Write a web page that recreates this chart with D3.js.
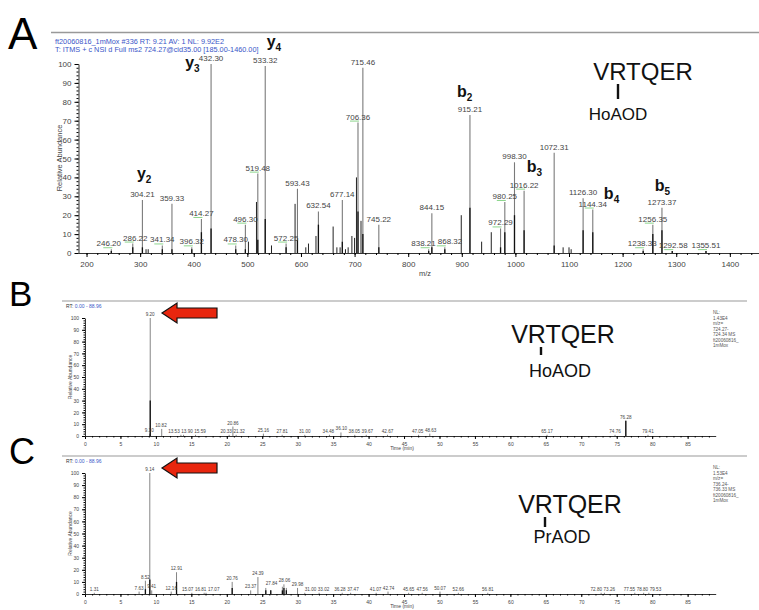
<!DOCTYPE html>
<html>
<head>
<meta charset="utf-8">
<script src="https://cdn.jsdelivr.net/npm/d3@7"></script>
<style>
body { margin: 0; background: #fff; }
svg { display: block; font-family: "Liberation Sans", Arial, sans-serif; }
</style>
</head>
<body>
<div id="chart"></div>
<script>
// ---- panel A : MS2 spectrum ----
var massLabeled = [246.20, 286.22, 304.21, 341.34, 359.33, 396.32, 414.27, 432.30, 478.30, 496.30,
    519.48, 533.32, 572.25, 593.43, 632.54, 677.14, 706.36, 715.46, 745.22, 838.21,
    844.15, 868.32, 915.21, 972.29, 980.25, 998.30, 1016.22, 1072.31, 1126.30, 1144.34,
    1238.33, 1256.35, 1273.37, 1292.58, 1355.51];
var intLabeled = [2, 5, 28, 4, 26, 3, 18, 100, 4, 15,
    42, 99, 5, 34, 22, 28, 69, 98, 15, 2,
    21, 3, 73, 13, 27, 48, 33, 53, 29, 23,
    2, 15, 24, 1, 1];
var darkLabeled = [1, 3, 3, 2, 2, 2, 11, 13, 2, 2,
    7, 18, 3, 7, 15, 6, 22, 10, 3, 1,
    3, 2, 24, 3, 11, 20, 12, 4, 12, 11,
    1, 10, 12, 1, 1];
var massOther = [311, 315, 502, 517, 545, 589, 609, 614, 628, 660, 667, 673, 683, 688, 695, 700, 703.5, 712,
    899, 937, 955, 1089, 1100, 1104];
var intOther = [2, 2, 6, 27, 4, 26, 3, 5, 9, 14, 3, 3, 2, 3, 9, 8, 40, 17,
    20, 6, 11, 3, 3, 2];
var greenA = [246.20, 286.22, 341.34, 396.32, 414.27, 478.30, 496.30, 519.48, 572.25, 706.36,
    838.21, 868.32, 972.29, 980.25, 1016.22, 1144.34, 1238.33, 1256.35, 1292.58, 1355.51];
var ionLetter = ["y", "y", "y", "b", "b", "b", "b"];
var ionIndex = ["2", "3", "4", "2", "3", "4", "5"];
var ionAtMz = [294, 384, 536, 891, 1021, 1165, 1260];
var ionAtInt = [39, 98, 109, 82.5, 43, 28.5, 33];
var mzTicks = [200, 300, 400, 500, 600, 700, 800, 900, 1000, 1100, 1200, 1300, 1400];
var abTicks = [0, 10, 20, 30, 40, 50, 60, 70, 80, 90, 100];

// ---- panel B : chromatogram HoAOD ----
var timeB = [9.10, 9.20, 10.82, 13.53, 13.90, 15.59, 20.33, 20.86, 21.32, 25.16, 27.81, 31.00,
    34.48, 36.10, 38.05, 39.67, 42.67, 47.05, 48.63, 65.17, 74.76, 76.28, 79.41];
var intB = [2, 100, 6, 1, 1, 1, 1, 8, 1, 2, 1, 1,
    1, 3, 1, 1, 1, 1, 2, 1, 1, 13, 1];
var darkB = [0, 30, 0, 0, 0, 0, 0, 0, 0, 0, 0, 0,
    0, 0, 0, 0, 0, 0, 0, 0, 0, 13, 0];
var nlB = ["NL:", "1.43E4", "m/z=", "724.27-", "724.34 MS", "ft20060816_", "1mMox"];

// ---- panel C : chromatogram PrAOD ----
var timeC = [1.31, 7.63, 8.52, 9.14, 9.41, 12.16, 12.91, 15.07, 16.81, 17.07, 20.76, 23.37,
    24.39, 25.5, 26.2, 27.84, 28.06, 28.4, 29.98, 31.00, 33.02, 36.28, 37.47, 41.07,
    42.74, 45.65, 47.56, 50.07, 52.66, 56.81, 72.80, 73.26, 77.55, 78.80, 79.53];
var intC = [1, 2, 11, 100, 3, 2, 18, 1, 1, 1, 10, 3,
    14, 5, 3, 6, 8, 5, 5, 1, 1, 1, 1, 1,
    2, 1, 1, 2, 1, 1, 1, 1, 1, 1, 1];
var darkC = [0, 0, 4, 12, 0, 0, 10, 0, 0, 0, 5, 0,
    0, 3, 3, 3, 5, 3, 0, 0, 0, 0, 0, 0,
    0, 0, 0, 0, 0, 0, 0, 0, 0, 0, 0];
var labelC = [true, true, true, true, true, true, true, true, true, true, true, true,
    true, false, false, true, true, false, true, true, true, true, true, true,
    true, true, true, true, true, true, true, true, true, true, true];
var nlC = ["NL:", "1.53E4", "m/z=", "736.24-", "736.33 MS", "ft20060816_", "1mMox"];
var timeTicks = [0, 5, 10, 15, 20, 25, 30, 35, 40, 45, 50, 55, 60, 65, 70, 75, 80, 85];

var fmt2 = d3.format(".2f");
var blue = "#3a56c8";

var svg = d3.select('#chart').append('svg')
    .attr('width', 759)
    .attr('height', 610);

// push apart peak labels that sit on the same level and collide
function spread(sel, gap) {
    var items = sel.nodes().map(n => ({ n: n, x: +n.getAttribute('x'), y: +n.getAttribute('y'), w: n.getComputedTextLength() }));
    for (var it = 0; it < 80; it++) {
        var moved = false;
        for (var i = 0; i < items.length; i++) {
            for (var j = i + 1; j < items.length; j++) {
                var a = items[i], b = items[j];
                if (Math.abs(a.y - b.y) > 6) continue;
                var need = (a.w + b.w) / 2 + gap;
                var d = b.x - a.x;
                if (Math.abs(d) < need) {
                    var push = (need - Math.abs(d)) / 2 + 0.01;
                    if (d >= 0) { a.x -= push; b.x += push; } else { a.x += push; b.x -= push; }
                    moved = true;
                }
            }
        }
        if (!moved) break;
    }
    items.forEach(o => o.n.setAttribute('x', o.x));
}

// panel letters
[["A", 8, 49, 44], ["B", 9, 306, 35], ["C", 9, 464, 36]].forEach(function (l) {
    svg.append('text').attr('x', l[1]).attr('y', l[2]).attr('font-size', l[3]).text(l[0]);
});

// ================= panel A =================
var xA = d3.scaleLinear().domain([185, 1460]).range([78.5, 762]);
var yA = d3.scaleLinear().domain([0, 100]).range([253, 64]);

svg.append('line').attr('x1', 51).attr('x2', 759).attr('y1', 32.5).attr('y2', 32.5)
    .attr('stroke', '#999').attr('stroke-width', 1.5);

svg.append('text').attr('x', 55).attr('y', 44).attr('font-size', 7.3).attr('fill', blue)
    .text('ft20060816_1mMox #336   RT: 9.21   AV: 1   NL: 9.92E2');
svg.append('text').attr('x', 55).attr('y', 52).attr('font-size', 7.3).attr('fill', blue)
    .text('T: ITMS + c NSI d Full ms2 724.27@cid35.00 [185.00-1460.00]');

var gA = svg.append('g');

// minor ticks
gA.append('g').attr('transform', 'translate(0,253)')
    .call(d3.axisBottom(xA).tickValues(d3.range(200, 1460, 20)).tickSize(2).tickSizeOuter(0).tickFormat(''))
    .call(g => g.select('.domain').attr('stroke', '#333'));
gA.append('g').attr('transform', 'translate(0,253)')
    .call(d3.axisBottom(xA).tickValues(mzTicks).tickSize(4).tickSizeOuter(0).tickFormat(d3.format('d')))
    .call(g => g.select('.domain').remove())
    .call(g => g.selectAll('text').attr('font-size', 8).attr('fill', '#444').attr('dy', '0.9em'));
gA.append('g').attr('transform', 'translate(78.5,0)')
    .call(d3.axisLeft(yA).tickValues(d3.range(0, 101, 2)).tickSize(2).tickSizeOuter(0).tickFormat(''))
    .call(g => g.select('.domain').attr('stroke', '#333'));
gA.append('g').attr('transform', 'translate(78.5,0)')
    .call(d3.axisLeft(yA).tickValues(abTicks).tickSize(4).tickSizeOuter(0))
    .call(g => g.select('.domain').remove())
    .call(g => g.selectAll('text').attr('font-size', 8).attr('fill', '#444'));

svg.append('text').attr('transform', 'translate(62,158) rotate(-90)')
    .attr('text-anchor', 'middle').attr('font-size', 7.5).attr('fill', '#444').text('Relative Abundance');
svg.append('text').attr('x', 425).attr('y', 276).attr('text-anchor', 'middle')
    .attr('font-size', 7.5).attr('fill', '#444').text('m/z');

// unlabeled sticks
gA.selectAll('.pO').data(massOther).enter().append('line')
    .attr('x1', d => xA(d)).attr('x2', d => xA(d))
    .attr('y1', yA(0)).attr('y2', (d, i) => yA(intOther[i]))
    .attr('stroke', '#222').attr('stroke-width', 1);
// labeled sticks
gA.selectAll('.pL').data(massLabeled).enter().append('line')
    .attr('x1', d => xA(d)).attr('x2', d => xA(d))
    .attr('y1', yA(0)).attr('y2', (d, i) => yA(intLabeled[i]))
    .attr('stroke', '#7a7a7a').attr('stroke-width', 1.1);
gA.selectAll('.pD').data(massLabeled).enter().append('line')
    .attr('x1', d => xA(d)).attr('x2', d => xA(d))
    .attr('y1', yA(0)).attr('y2', (d, i) => yA(darkLabeled[i]))
    .attr('stroke', '#111').attr('stroke-width', 1.3);
gA.selectAll('.grn').data(massLabeled.filter(d => greenA.indexOf(d) >= 0)).enter().append('line')
    .attr('x1', d => xA(d) - 8).attr('x2', d => xA(d) + 1)
    .attr('y1', d => yA(intLabeled[massLabeled.indexOf(d)]) - 1.5)
    .attr('y2', d => yA(intLabeled[massLabeled.indexOf(d)]) - 1.5)
    .attr('stroke', '#7fd07f').attr('stroke-width', 0.9);
var lblA = gA.selectAll('.lbl').data(massLabeled).enter().append('text')
    .attr('x', d => xA(d)).attr('y', (d, i) => yA(intLabeled[i]) - 3)
    .attr('text-anchor', 'middle').attr('font-size', 8).attr('fill', '#444')
    .text(d => fmt2(d));
spread(lblA, 2);

// fragment ion names
ionLetter.forEach(function (n, i) {
    var t = svg.append('text').attr('x', xA(ionAtMz[i])).attr('y', yA(ionAtInt[i]))
        .attr('font-size', 16).attr('font-weight', 'bold').attr('fill', '#111');
    t.append('tspan').text(n);
    t.append('tspan').attr('font-size', 10).attr('dy', 4).text(ionIndex[i]);
});

// peptide annotation
function peptide(cx, base, size, tickX, tickY1, tickY2, modName, modX, modBase, modSize) {
    svg.append('text').attr('x', cx).attr('y', base).attr('text-anchor', 'middle')
        .attr('font-size', size).attr('fill', '#111').text('VRTQER');
    svg.append('line').attr('x1', tickX).attr('x2', tickX).attr('y1', tickY1).attr('y2', tickY2)
        .attr('stroke', '#111').attr('stroke-width', 2.4);
    svg.append('text').attr('x', modX).attr('y', modBase).attr('text-anchor', 'middle')
        .attr('font-size', modSize).attr('fill', '#111').text(modName);
}
peptide(643, 80, 24, 618, 84, 99, 'HoAOD', 618, 120, 17);

// ================= panels B and C =================
var xT = d3.scaleLinear().domain([0, 88.96]).range([85, 715.7]);

function trace(top, bottom, times, ints, darks, shown, nl) {
    var y = d3.scaleLinear().domain([0, 100]).range([bottom, top]);
    var panelTop = top - 17;
    svg.append('line').attr('x1', 62).attr('x2', 747).attr('y1', panelTop).attr('y2', panelTop)
        .attr('stroke', '#999').attr('stroke-width', 1.2);
    var rt = svg.append('text').attr('x', 66).attr('y', panelTop + 7).attr('font-size', 5);
    rt.append('tspan').attr('fill', '#333').text('RT: ');
    rt.append('tspan').attr('fill', blue).text('0.00 - 88.96');

    var g = svg.append('g');
    g.append('g').attr('transform', `translate(0,${bottom})`)
        .call(d3.axisBottom(xT).tickValues(d3.range(0, 89, 1)).tickSize(1.5).tickSizeOuter(0).tickFormat(''))
        .call(s => s.select('.domain').attr('stroke', '#333'));
    g.append('g').attr('transform', `translate(0,${bottom})`)
        .call(d3.axisBottom(xT).tickValues(timeTicks).tickSize(3).tickSizeOuter(0))
        .call(s => s.select('.domain').remove())
        .call(s => s.selectAll('text').attr('font-size', 5).attr('fill', '#444'));
    g.append('g').attr('transform', 'translate(85,0)')
        .call(d3.axisLeft(y).tickValues(d3.range(0, 101, 2)).tickSize(1.5).tickSizeOuter(0).tickFormat(''))
        .call(s => s.select('.domain').attr('stroke', '#333'));
    g.append('g').attr('transform', 'translate(85,0)')
        .call(d3.axisLeft(y).tickValues(abTicks).tickSize(3).tickSizeOuter(0))
        .call(s => s.select('.domain').remove())
        .call(s => s.selectAll('text').attr('font-size', 5).attr('fill', '#444'));

    svg.append('text').attr('transform', `translate(72,${(top + bottom) / 2}) rotate(-90)`)
        .attr('text-anchor', 'middle').attr('font-size', 5).attr('fill', '#444').text('Relative Abundance');
    svg.append('text').attr('x', 402).attr('y', bottom + 14).attr('text-anchor', 'middle')
        .attr('font-size', 5).attr('fill', '#444').text('Time (min)');

    g.selectAll('.pk').data(times).enter().append('line')
        .attr('x1', d => xT(d)).attr('x2', d => xT(d))
        .attr('y1', bottom).attr('y2', (d, i) => y(ints[i]))
        .attr('stroke', '#777').attr('stroke-width', 0.9);
    g.selectAll('.dk').data(times).enter().append('line')
        .attr('x1', d => xT(d)).attr('x2', d => xT(d))
        .attr('y1', bottom).attr('y2', (d, i) => y(darks[i]))
        .attr('stroke', '#111').attr('stroke-width', 1.3);
    var lb = g.selectAll('.lb').data(times.filter((d, i) => shown[i])).enter().append('text')
        .attr('x', d => xT(d)).attr('y', d => y(ints[times.indexOf(d)]) - 2)
        .attr('text-anchor', 'middle').attr('font-size', 4.6).attr('fill', '#444')
        .text(d => fmt2(d));
    spread(lb, 1.5);

    nl.forEach(function (s, i) {
        svg.append('text').attr('x', 713).attr('y', top - 4 + i * 5.5)
            .attr('font-size', 4.6).attr('fill', '#555').text(s);
    });

    // red arrow pointing at the main peak
    var ay = top - 5;
    var pts = [[162, ay], [177, ay - 10], [177, ay - 5], [217, ay - 5], [217, ay + 5], [177, ay + 5], [177, ay + 10]];
    svg.append('polygon').attr('points', pts.map(p => p.join(',')).join(' '))
        .attr('fill', '#e8260e').attr('stroke', '#111').attr('stroke-width', 1.2)
        .attr('stroke-linejoin', 'miter');
}

trace(318, 436, timeB, intB, darkB, timeB.map(() => true), nlB);
peptide(563, 343, 25, 541, 347, 355, 'HoAOD', 560, 377, 18);

trace(473, 594, timeC, intC, darkC, labelC, nlC);
peptide(570, 513, 25, 545, 517, 527, 'PrAOD', 562, 543, 18);
</script>
</body>
</html>
